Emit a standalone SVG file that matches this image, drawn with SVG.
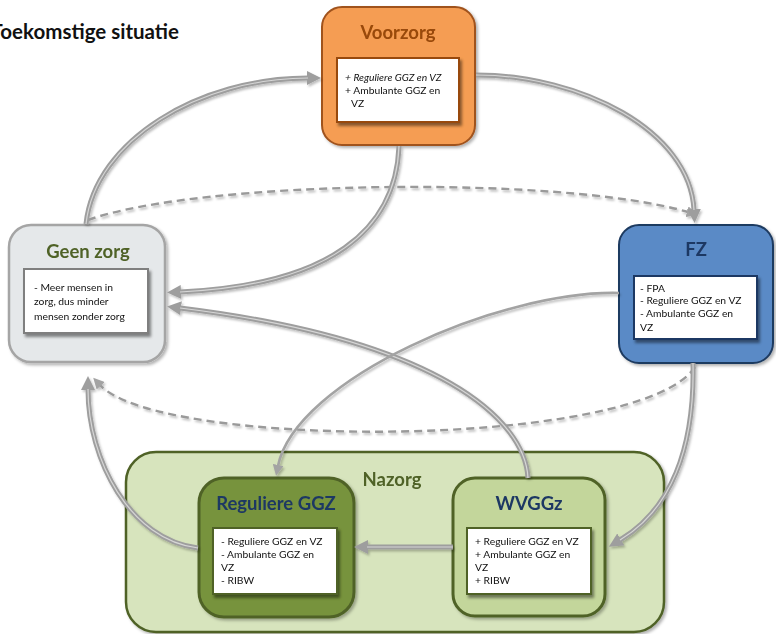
<svg xmlns="http://www.w3.org/2000/svg" width="776" height="634" viewBox="0 0 776 634">
<style>
  text { font-family: Lato, "Liberation Sans", sans-serif; }
  .ttl { font-weight: bold; font-size: 18.5px; text-anchor: middle; }
  .body { font-size: 10.3px; fill: #111; }
  .inner { fill: #ffffff; stroke-width: 2; filter: url(#sh); }
  .node { filter: url(#nsh); }
  .c-out { fill: none; stroke: #9E9E9E; stroke-width: 5; }
  .c-in { fill: none; stroke: #D6D6D6; stroke-width: 1.2; }
  .c-thin { fill: none; stroke: #A3A3A3; stroke-width: 2.6; }
  .c-dash { fill: none; stroke: #9A9A9A; stroke-width: 2.4; stroke-dasharray: 8 5; }
</style>
<defs>
  <filter id="sh" x="-10%" y="-10%" width="130%" height="140%">
    <feDropShadow dx="2" dy="3" stdDeviation="1.5" flood-color="#000" flood-opacity="0.45"/>
  </filter>
  <filter id="nsh" x="-10%" y="-10%" width="130%" height="130%">
    <feDropShadow dx="2" dy="2" stdDeviation="1.5" flood-color="#000" flood-opacity="0.3"/>
  </filter>
  <filter id="csh" x="-10%" y="-10%" width="130%" height="130%">
    <feDropShadow dx="1.5" dy="2" stdDeviation="1.2" flood-color="#000" flood-opacity="0.25"/>
  </filter>
  <marker id="ah" viewBox="0 0 14 14" refX="1" refY="7" markerWidth="14" markerHeight="14" orient="auto" markerUnits="userSpaceOnUse">
    <path d="M0,0 L14,7 L0,14 z" fill="#9E9E9E"/>
  </marker>
  <marker id="ahs" viewBox="0 0 11 11" refX="1" refY="5.5" markerWidth="11" markerHeight="11" orient="auto" markerUnits="userSpaceOnUse">
    <path d="M0,0 L11,5.5 L0,11 z" fill="#A3A3A3"/>
  </marker>
</defs>
<rect x="0" y="0" width="776" height="634" fill="#ffffff"/>

<text x="179" y="39" font-weight="bold" font-size="20.5" text-anchor="end" fill="#111">Toekomstige situatie</text>

<g id="nazorg" class="node">
  <rect x="126" y="452" width="538" height="180" rx="30" fill="#D7E4BD" stroke="#4F6228" stroke-width="2.5"/>
  <text x="392" y="486" class="ttl" fill="#4F6228">Nazorg</text>
</g>

<g id="voorzorg" class="node">
  <rect x="322" y="7" width="153" height="138" rx="20" fill="#F59D52" stroke="#A0521E" stroke-width="2"/>
  <text x="398" y="39" class="ttl" fill="#984807">Voorzorg</text>
  <rect x="337" y="58" width="122" height="64" class="inner" stroke="#984807"/>
  <text x="345" y="81" class="body" font-style="italic">+ Reguliere GGZ en VZ</text>
  <text x="345" y="94" class="body">+ Ambulante GGZ en</text>
  <text x="351" y="107" class="body">VZ</text>
</g>

<g id="geenzorg" class="node">
  <rect x="9" y="225" width="156" height="137" rx="22" fill="#E5E8EA" stroke="#A5A5A5" stroke-width="2.5"/>
  <text x="88" y="258" class="ttl" fill="#4F6228">Geen zorg</text>
  <rect x="24" y="269" width="124" height="64" class="inner" stroke="#7F7F7F"/>
  <text x="34" y="291" class="body">- Meer mensen in</text>
  <text x="34" y="305" class="body">zorg, dus minder</text>
  <text x="34" y="320" class="body">mensen zonder zorg</text>
</g>

<g id="fz" class="node">
  <rect x="619" y="225" width="154" height="138" rx="20" fill="#5A8AC6" stroke="#1F3A60" stroke-width="2"/>
  <text x="696" y="256" class="ttl" fill="#1F3864">FZ</text>
  <rect x="634" y="276" width="123" height="63" class="inner" stroke="#1F3864"/>
  <text x="640" y="292" class="body">- FPA</text>
  <text x="640" y="304" class="body">- Reguliere GGZ en VZ</text>
  <text x="640" y="317" class="body">- Ambulante GGZ en</text>
  <text x="640" y="331" class="body">VZ</text>
</g>

<g id="reguliere" class="node">
  <rect x="199" y="478" width="155" height="139" rx="25" fill="#77933C" stroke="#4F6228" stroke-width="3"/>
  <text x="276" y="510" class="ttl" fill="#1F3864">Reguliere GGZ</text>
  <rect x="213" y="528" width="124" height="66" class="inner" stroke="#4F6228"/>
  <text x="221" y="545" class="body">- Reguliere GGZ en VZ</text>
  <text x="221" y="558" class="body">- Ambulante GGZ en</text>
  <text x="221" y="571" class="body">VZ</text>
  <text x="221" y="584" class="body">- RIBW</text>
</g>

<g id="wvggz" class="node">
  <rect x="453" y="478" width="152" height="138" rx="22" fill="#C3D69B" stroke="#4F6228" stroke-width="3"/>
  <text x="529" y="510" class="ttl" fill="#1F3864">WVGGz</text>
  <rect x="467" y="528" width="124" height="66" class="inner" stroke="#4F6228"/>
  <text x="475" y="545" class="body">+ Reguliere GGZ en VZ</text>
  <text x="475" y="558" class="body">+ Ambulante GGZ en</text>
  <text x="475" y="571" class="body">VZ</text>
  <text x="475" y="584" class="body">+ RIBW</text>
</g>

<g id="connectors" filter="url(#csh)">
  <path class="c-dash" d="M 88 220 C 200 180, 560 175, 688 212" marker-end="url(#ahs)"/>
  <path class="c-dash" d="M 695 367 C 640 450, 160 450, 100 385" marker-end="url(#ahs)"/>
  <path class="c-out" d="M 86 224 C 95 140, 200 78, 308 78" marker-end="url(#ah)"/>
  <path class="c-in" d="M 86 224 C 95 140, 200 78, 308 78"/>
  <path class="c-out" d="M 476 75 C 580 75, 690 130, 694 210" marker-end="url(#ah)"/>
  <path class="c-in" d="M 476 75 C 580 75, 690 130, 694 210"/>
  <path class="c-out" d="M 399 146 C 396 230, 330 285, 180 292" marker-end="url(#ah)"/>
  <path class="c-in" d="M 399 146 C 396 230, 330 285, 180 292"/>
  <path class="c-out" d="M 528 478 C 525 420, 440 340, 180 308" marker-end="url(#ah)"/>
  <path class="c-in" d="M 528 478 C 525 420, 440 340, 180 308"/>
  <path class="c-thin" d="M 619 293 C 500 290, 295 380, 278 466" marker-end="url(#ahs)"/>
  <path class="c-out" d="M 693 363 C 695 450, 670 510, 620 540" marker-end="url(#ah)"/>
  <path class="c-in" d="M 693 363 C 695 450, 670 510, 620 540"/>
  <path class="c-out" d="M 453 547 L 367 547" marker-end="url(#ah)"/>
  <path class="c-in" d="M 453 547 L 367 547"/>
  <path class="c-out" d="M 198 548 C 130 540, 88 460, 88 389" marker-end="url(#ah)"/>
  <path class="c-in" d="M 198 548 C 130 540, 88 460, 88 389"/>
</g>
</svg>
